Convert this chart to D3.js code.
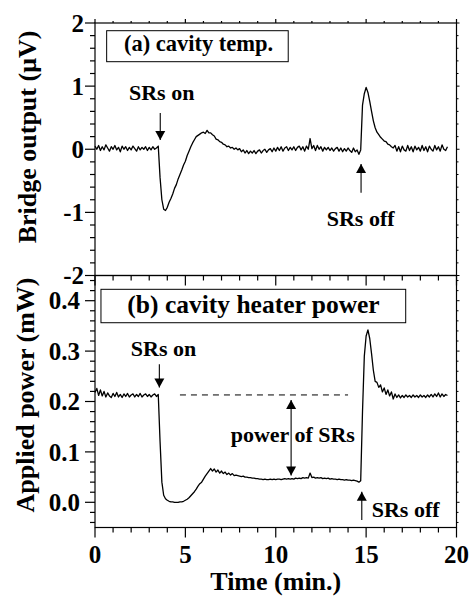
<!DOCTYPE html>
<html>
<head>
<meta charset="utf-8">
<script src="https://cdn.jsdelivr.net/npm/d3@7/dist/d3.min.js"></script>
<style>
  html, body { margin: 0; padding: 0; background: #fff; }
  svg { display: block; }
  text { font-family: "Liberation Serif", "Times New Roman", serif; font-weight: bold; fill: #000; }
</style>
</head>
<body>
<svg id="chart" width="469" height="596"></svg>
<script>
// ---------------- DATA ----------------
const timeMin = [
  0.0,0.1,0.2,0.3,0.4,0.5,0.6,0.7,0.8,0.9,
  1.0,1.1,1.2,1.3,1.4,1.5,1.6,1.7,1.8,1.9,
  2.0,2.1,2.2,2.3,2.4,2.5,2.6,2.7,2.8,2.9,
  3.0,3.1,3.2,3.3,3.4,3.5,3.6,3.7,3.8,3.9,
  4.0,4.1,4.2,4.3,4.4,4.5,4.6,4.7,4.8,4.9,
  5.0,5.1,5.2,5.3,5.4,5.5,5.6,5.7,5.8,5.9,
  6.0,6.1,6.2,6.3,6.4,6.5,6.6,6.7,6.8,6.9,
  7.0,7.1,7.2,7.3,7.4,7.5,7.6,7.7,7.8,7.9,
  8.0,8.1,8.2,8.3,8.4,8.5,8.6,8.7,8.8,8.9,
  9.0,9.1,9.2,9.3,9.4,9.5,9.6,9.7,9.8,9.9,
  10.0,10.1,10.2,10.3,10.4,10.5,10.6,10.7,10.8,10.9,
  11.0,11.1,11.2,11.3,11.4,11.5,11.6,11.7,11.8,11.9,
  12.0,12.1,12.2,12.3,12.4,12.5,12.6,12.7,12.8,12.9,
  13.0,13.1,13.2,13.3,13.4,13.5,13.6,13.7,13.8,13.9,
  14.0,14.1,14.2,14.3,14.4,14.5,14.6,14.7,14.8,14.9,
  15.0,15.1,15.2,15.3,15.4,15.5,15.6,15.7,15.8,15.9,
  16.0,16.1,16.2,16.3,16.4,16.5,16.6,16.7,16.8,16.9,
  17.0,17.1,17.2,17.3,17.4,17.5,17.6,17.7,17.8,17.9,
  18.0,18.1,18.2,18.3,18.4,18.5,18.6,18.7,18.8,18.9,
  19.0,19.1,19.2,19.3,19.4,19.5
];

// (a) bridge output, µV
const bridgeOutput = [
  0.05,0.00,0.06,-0.02,0.04,-0.01,0.07,0.02,-0.03,0.04,
  0.00,0.06,-0.01,0.03,-0.04,0.05,0.00,0.04,-0.02,0.03,
  -0.01,0.05,0.01,-0.03,0.04,-0.01,0.03,0.00,0.04,-0.02,
  0.03,-0.01,0.04,0.00,0.02,0.05,-0.45,-0.80,-0.95,-0.97,
  -0.92,-0.84,-0.78,-0.71,-0.62,-0.56,-0.47,-0.40,-0.33,-0.25,
  -0.19,-0.10,-0.03,0.04,0.10,0.15,0.20,0.22,0.24,0.26,
  0.27,0.25,0.30,0.26,0.26,0.23,0.21,0.16,0.15,0.12,
  0.11,0.08,0.07,0.04,0.05,0.02,0.03,0.00,0.02,-0.01,
  0.01,-0.04,-0.01,-0.06,-0.02,-0.07,-0.03,-0.06,-0.02,-0.07,
  -0.03,-0.01,-0.06,-0.02,0.00,-0.05,-0.01,0.01,-0.04,0.02,
  -0.03,0.03,-0.02,0.04,-0.03,0.02,0.04,-0.02,0.03,-0.01,
  0.04,-0.02,0.03,0.05,-0.01,0.04,-0.03,0.05,0.00,0.17,
  0.01,0.06,-0.02,0.06,0.00,0.04,-0.03,0.03,-0.01,0.03,
  -0.02,0.02,-0.03,0.01,0.03,-0.03,0.02,-0.04,0.01,-0.03,
  0.02,-0.02,-0.05,0.02,-0.04,-0.01,-0.08,-0.01,0.70,0.88,
  0.98,0.90,0.76,0.60,0.45,0.34,0.27,0.23,0.19,0.16,
  0.13,0.12,0.08,0.07,0.04,0.02,0.06,-0.03,0.04,-0.04,
  0.05,-0.01,-0.03,0.06,-0.02,0.04,-0.04,0.05,-0.01,0.03,
  -0.03,0.06,-0.02,0.04,-0.04,0.05,0.00,-0.03,0.06,-0.01,
  0.04,-0.03,0.07,0.00,-0.02,0.04
];

// (b) applied heater power, mW
const heaterPower = [
  0.218,0.226,0.212,0.223,0.211,0.220,0.209,0.217,0.211,0.208,
  0.216,0.210,0.218,0.209,0.214,0.208,0.215,0.210,0.216,0.209,
  0.213,0.215,0.209,0.214,0.210,0.216,0.209,0.213,0.215,0.210,
  0.214,0.209,0.213,0.215,0.210,0.214,0.120,0.040,0.014,0.007,
  0.004,0.002,0.001,0.001,0.000,0.000,0.000,0.001,0.001,0.002,
  0.004,0.006,0.009,0.013,0.017,0.021,0.026,0.032,0.037,0.040,
  0.046,0.052,0.057,0.062,0.067,0.062,0.066,0.060,0.064,0.058,
  0.062,0.057,0.060,0.055,0.058,0.054,0.057,0.053,0.054,0.053,
  0.052,0.051,0.052,0.050,0.050,0.049,0.049,0.048,0.048,0.047,
  0.047,0.046,0.046,0.045,0.046,0.045,0.045,0.046,0.045,0.046,
  0.045,0.046,0.046,0.045,0.046,0.047,0.046,0.047,0.046,0.047,
  0.046,0.048,0.047,0.048,0.047,0.049,0.048,0.049,0.048,0.058,
  0.049,0.050,0.048,0.049,0.048,0.049,0.047,0.048,0.047,0.048,
  0.046,0.047,0.046,0.046,0.045,0.046,0.045,0.045,0.044,0.045,
  0.044,0.044,0.043,0.044,0.043,0.042,0.040,0.043,0.180,0.290,
  0.330,0.342,0.325,0.295,0.262,0.240,0.238,0.228,0.233,0.219,
  0.227,0.214,0.223,0.211,0.219,0.205,0.215,0.208,0.213,0.207,
  0.212,0.208,0.213,0.209,0.212,0.208,0.213,0.209,0.212,0.208,
  0.213,0.209,0.212,0.208,0.213,0.209,0.214,0.209,0.215,0.210,
  0.217,0.209,0.215,0.210,0.214,0.212
];

const xTickValues = [0, 5, 10, 15, 20];
const xTickLabels = ["0", "5", "10", "15", "20"];
const topYTickValues = [-2, -1, 0, 1, 2];
const topYTickLabels = ["-2", "-1", "0", "1", "2"];
const botYTickValues = [0.0, 0.1, 0.2, 0.3, 0.4];
const botYTickLabels = ["0.0", "0.1", "0.2", "0.3", "0.4"];

const xTitle = "Time (min.)";
const topYTitle = "Bridge output (\u03BCV)";
const botYTitle = "Applied power (mW)";
const topPanelLabel = "(a) cavity temp.";
const botPanelLabel = "(b) cavity heater power";

// baseline level of heater power (dashed reference) and SR-power span
const powerBaseline = 0.213;
const powerWithSRs = 0.053;

// ---------------- LAYOUT ----------------
const svg = d3.select("#chart");
const L = 95, R = 456.5, T1 = 23, B1 = 275.5, B2 = 527.5;

const x = d3.scaleLinear().domain([0, 20]).range([L, R]);
const yTop = d3.scaleLinear().domain([-2, 2]).range([B1, T1]);
const yBot = d3.scaleLinear().domain([-0.05, 0.45]).range([B2, B1]);

const g = svg.append("g");

// frames
g.append("rect").attr("x", L).attr("y", T1).attr("width", R - L).attr("height", B1 - T1)
  .attr("fill", "none").attr("stroke", "#000").attr("stroke-width", 1.2);
g.append("rect").attr("x", L).attr("y", B1).attr("width", R - L).attr("height", B2 - B1)
  .attr("fill", "none").attr("stroke", "#000").attr("stroke-width", 1.2);

function isMajor(v, step) { return Math.abs(v / step - Math.round(v / step)) < 1e-6; }

// X ticks
const xMinor = d3.range(0, 20.001, 1);
function xTicksAt(yPos, dir, lenMajor, lenMinor) {
  g.append("g").selectAll("line").data(xMinor).join("line")
    .attr("x1", d => x(d)).attr("x2", d => x(d))
    .attr("y1", yPos).attr("y2", d => yPos + dir * (isMajor(d, 5) ? lenMajor : lenMinor))
    .attr("stroke", "#000").attr("stroke-width", 1.2);
}
xTicksAt(T1, -1, 4, 2);
xTicksAt(B1, 1, 10, 5);
xTicksAt(B2, 1, 10, 5);

// Y ticks
function yTicks(scale, vals, majorStep) {
  g.append("g").selectAll("line").data(vals).join("line")
    .attr("x1", L).attr("x2", d => L - (isMajor(d, majorStep) ? 10 : 5))
    .attr("y1", d => scale(d)).attr("y2", d => scale(d))
    .attr("stroke", "#000").attr("stroke-width", 1.2);
  g.append("g").selectAll("line").data(vals).join("line")
    .attr("x1", R).attr("x2", d => R + (isMajor(d, majorStep) ? 3 : 2))
    .attr("y1", d => scale(d)).attr("y2", d => scale(d))
    .attr("stroke", "#000").attr("stroke-width", 1);
}
yTicks(yTop, d3.range(-2, 2.001, 0.2).map(v => +v.toFixed(2)), 1);
yTicks(yBot, d3.range(-0.04, 0.4401, 0.02).map(v => +v.toFixed(3)), 0.1);

// tick labels
g.append("g").selectAll("text").data(topYTickValues).join("text")
  .attr("x", 84).attr("y", d => yTop(d)).attr("dy", "0.35em")
  .attr("text-anchor", "end").attr("font-size", 25)
  .text((d, i) => topYTickLabels[i]);
g.append("g").selectAll("text").data(botYTickValues).join("text")
  .attr("x", 80).attr("y", d => yBot(d)).attr("dy", "0.35em")
  .attr("text-anchor", "end").attr("font-size", 25)
  .text((d, i) => botYTickLabels[i]);
g.append("g").selectAll("text").data(xTickValues).join("text")
  .attr("x", d => x(d)).attr("y", 563)
  .attr("text-anchor", "middle").attr("font-size", 25)
  .text((d, i) => xTickLabels[i]);

// axis titles
g.append("text").attr("x", (L + R) / 2).attr("y", 590).attr("text-anchor", "middle")
  .attr("font-size", 26).text(xTitle);
g.append("text").attr("transform", "translate(36,137) rotate(-90)").attr("text-anchor", "middle")
  .attr("font-size", 26).text(topYTitle);
g.append("text").attr("transform", "translate(34,395) rotate(-90)").attr("text-anchor", "middle")
  .attr("font-size", 26).text(botYTitle);

// data lines
const lineTop = d3.line().x((d, i) => x(timeMin[i])).y(d => yTop(d));
const lineBot = d3.line().x((d, i) => x(timeMin[i])).y(d => yBot(d));
g.append("path").attr("d", lineTop(bridgeOutput)).attr("fill", "none")
  .attr("stroke", "#000").attr("stroke-width", 1.3).attr("stroke-linejoin", "round");
g.append("path").attr("d", lineBot(heaterPower)).attr("fill", "none")
  .attr("stroke", "#000").attr("stroke-width", 1.3).attr("stroke-linejoin", "round");

// panel labels with boxes
g.append("rect").attr("x", x(0.645)).attr("y", yTop(1.878))
  .attr("width", x(10.69) - x(0.645)).attr("height", yTop(1.387) - yTop(1.878))
  .attr("fill", "#fff").attr("stroke", "#000").attr("stroke-width", 1);
g.append("text").attr("x", x(1.6)).attr("y", yTop(1.564)).attr("font-size", 22.5).text(topPanelLabel);

g.append("rect").attr("x", x(0.33)).attr("y", yBot(0.4226))
  .attr("width", x(17.19) - x(0.33)).attr("height", yBot(0.3563) - yBot(0.4226))
  .attr("fill", "#fff").attr("stroke", "#000").attr("stroke-width", 1);
g.append("text").attr("x", x(1.79)).attr("y", yBot(0.3756)).attr("font-size", 25.5).text(botPanelLabel);

// arrows
function arrow(px, yTail, yTip, both) {
  g.append("line").attr("x1", px).attr("x2", px).attr("y1", yTail).attr("y2", yTip)
    .attr("stroke", "#000").attr("stroke-width", 1.1);
  const head = (tip, from) => {
    const s = Math.sign(tip - from);
    g.append("path").attr("d", `M${px},${tip} L${px - 5},${tip - s * 9} L${px + 5},${tip - s * 9} Z`)
      .attr("fill", "#000");
  };
  head(yTip, yTail);
  if (both) head(yTail, yTip);
}

// (a) annotations
g.append("text").attr("x", x(1.88)).attr("y", yTop(0.78)).attr("font-size", 22).text("SRs on");
arrow(x(3.61), yTop(0.574), yTop(0.147));
g.append("text").attr("x", x(12.82)).attr("y", yTop(-1.21)).attr("font-size", 22).text("SRs off");
arrow(x(14.72), yTop(-0.69), yTop(-0.234));

// (b) annotations
g.append("text").attr("x", x(1.98)).attr("y", yBot(0.290)).attr("font-size", 22).text("SRs on");
arrow(x(3.56), yBot(0.274), yBot(0.228));
g.append("line").attr("x1", x(4.7)).attr("x2", x(14.0))
  .attr("y1", yBot(powerBaseline)).attr("y2", yBot(powerBaseline))
  .attr("stroke", "#000").attr("stroke-width", 1).attr("stroke-dasharray", "6,5");
arrow(x(10.85), yBot(powerWithSRs), yBot(powerBaseline - 0.01), true);
g.append("text").attr("x", x(14.38)).attr("y", yBot(0.120)).attr("text-anchor", "end")
  .attr("font-size", 22).text("power of SRs");
g.append("text").attr("x", x(15.31)).attr("y", yBot(-0.0286)).attr("font-size", 22).text("SRs off");
arrow(x(14.76), yBot(-0.035), yBot(0.021));
</script>
</body>
</html>
